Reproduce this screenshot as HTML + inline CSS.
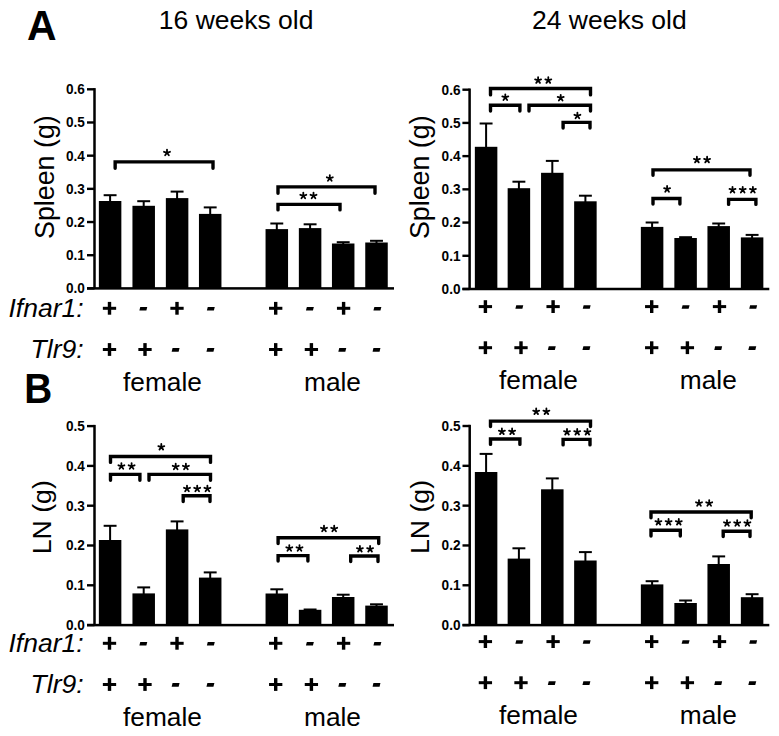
<!DOCTYPE html>
<html><head><meta charset="utf-8"><style>
html,body{margin:0;padding:0;background:#fff;}
svg{display:block;}
text{font-family:"Liberation Sans", sans-serif;fill:#000;}
</style></head><body>
<svg width="779" height="736" viewBox="0 0 779 736">
<rect width="779" height="736" fill="#fff"/>
<g fill="#000">
<rect x="93.25" y="88.1" width="2.5" height="200.3"/>
<rect x="87" y="287.2" width="7.5" height="2.4"/>
<text x="0" y="0" font-size="13.9" font-weight="bold" font-style="normal" text-anchor="end" transform="translate(84.9 293.28) scale(0.98 1.08)">0.0</text>
<rect x="87" y="254.02" width="7.5" height="2.4"/>
<text x="0" y="0" font-size="13.9" font-weight="bold" font-style="normal" text-anchor="end" transform="translate(84.9 260.09) scale(0.98 1.08)">0.1</text>
<rect x="87" y="220.83" width="7.5" height="2.4"/>
<text x="0" y="0" font-size="13.9" font-weight="bold" font-style="normal" text-anchor="end" transform="translate(84.9 226.91) scale(0.98 1.08)">0.2</text>
<rect x="87" y="187.65" width="7.5" height="2.4"/>
<text x="0" y="0" font-size="13.9" font-weight="bold" font-style="normal" text-anchor="end" transform="translate(84.9 193.73) scale(0.98 1.08)">0.3</text>
<rect x="87" y="154.47" width="7.5" height="2.4"/>
<text x="0" y="0" font-size="13.9" font-weight="bold" font-style="normal" text-anchor="end" transform="translate(84.9 160.54) scale(0.98 1.08)">0.4</text>
<rect x="87" y="121.28" width="7.5" height="2.4"/>
<text x="0" y="0" font-size="13.9" font-weight="bold" font-style="normal" text-anchor="end" transform="translate(84.9 127.36) scale(0.98 1.08)">0.5</text>
<rect x="87" y="88.1" width="7.5" height="2.4"/>
<text x="0" y="0" font-size="13.9" font-weight="bold" font-style="normal" text-anchor="end" transform="translate(84.9 94.18) scale(0.98 1.08)">0.6</text>
<rect x="87" y="287.15" width="307" height="2.5"/>
<rect x="98.85" y="201" width="22.5" height="87.4"/>
<rect x="109.1" y="195" width="2" height="7"/>
<rect x="103.65" y="194.2" width="12.9" height="2"/>
<rect x="132.45" y="205.8" width="22.5" height="82.6"/>
<rect x="142.7" y="201" width="2" height="5.8"/>
<rect x="137.25" y="200.2" width="12.9" height="2"/>
<rect x="165.85" y="198.1" width="22.5" height="90.3"/>
<rect x="176.1" y="191.4" width="2" height="7.7"/>
<rect x="170.65" y="190.6" width="12.9" height="2"/>
<rect x="198.95" y="213.9" width="22.5" height="74.5"/>
<rect x="209.2" y="207.2" width="2" height="7.7"/>
<rect x="203.75" y="206.4" width="12.9" height="2"/>
<rect x="265.55" y="229.1" width="22.5" height="59.3"/>
<rect x="275.8" y="223.3" width="2" height="6.8"/>
<rect x="270.35" y="222.5" width="12.9" height="2"/>
<rect x="298.85" y="228.1" width="22.5" height="60.3"/>
<rect x="309.1" y="224.1" width="2" height="5"/>
<rect x="303.65" y="223.3" width="12.9" height="2"/>
<rect x="331.95" y="243.5" width="22.5" height="44.9"/>
<rect x="342.2" y="242" width="2" height="2.5"/>
<rect x="336.75" y="241.2" width="12.9" height="2"/>
<rect x="365.25" y="242.5" width="22.5" height="45.9"/>
<rect x="375.5" y="240.6" width="2" height="2.9"/>
<rect x="370.05" y="239.8" width="12.9" height="2"/>
<path d="M115.15 168.2V161.85H213V168.2" fill="none" stroke="#000" stroke-width="3.4" stroke-linecap="round" stroke-linejoin="miter"/>
<path d="M278 193.2V186.85H375V193.2" fill="none" stroke="#000" stroke-width="3.4" stroke-linecap="round" stroke-linejoin="miter"/>
<path d="M278 209.9V204.35H340V209.9" fill="none" stroke="#000" stroke-width="3.4" stroke-linecap="round" stroke-linejoin="miter"/>
<path d="M167 152.75L167 149.6M167 152.75L170 151.78M167 152.75L168.85 155.3M167 152.75L165.15 155.3M167 152.75L164 151.78" fill="none" stroke="#000" stroke-width="1.8" stroke-linecap="round"/>
<path d="M329.8 178.25L329.8 175.1M329.8 178.25L332.8 177.28M329.8 178.25L331.65 180.8M329.8 178.25L327.95 180.8M329.8 178.25L326.8 177.28" fill="none" stroke="#000" stroke-width="1.8" stroke-linecap="round"/>
<path d="M303.3 195.75L303.3 192.6M303.3 195.75L306.3 194.78M303.3 195.75L305.15 198.3M303.3 195.75L301.45 198.3M303.3 195.75L300.3 194.78M313.5 195.75L313.5 192.6M313.5 195.75L316.5 194.78M313.5 195.75L315.35 198.3M313.5 195.75L311.65 198.3M313.5 195.75L310.5 194.78" fill="none" stroke="#000" stroke-width="1.8" stroke-linecap="round"/>
<rect x="468.35" y="88.5" width="2.5" height="200.5"/>
<rect x="462.4" y="287.8" width="7.2" height="2.4"/>
<text x="0" y="0" font-size="13.9" font-weight="bold" font-style="normal" text-anchor="end" transform="translate(460.5 293.88) scale(0.98 1.08)">0.0</text>
<rect x="462.4" y="254.58" width="7.2" height="2.4"/>
<text x="0" y="0" font-size="13.9" font-weight="bold" font-style="normal" text-anchor="end" transform="translate(460.5 260.66) scale(0.98 1.08)">0.1</text>
<rect x="462.4" y="221.37" width="7.2" height="2.4"/>
<text x="0" y="0" font-size="13.9" font-weight="bold" font-style="normal" text-anchor="end" transform="translate(460.5 227.44) scale(0.98 1.08)">0.2</text>
<rect x="462.4" y="188.15" width="7.2" height="2.4"/>
<text x="0" y="0" font-size="13.9" font-weight="bold" font-style="normal" text-anchor="end" transform="translate(460.5 194.23) scale(0.98 1.08)">0.3</text>
<rect x="462.4" y="154.93" width="7.2" height="2.4"/>
<text x="0" y="0" font-size="13.9" font-weight="bold" font-style="normal" text-anchor="end" transform="translate(460.5 161.01) scale(0.98 1.08)">0.4</text>
<rect x="462.4" y="121.72" width="7.2" height="2.4"/>
<text x="0" y="0" font-size="13.9" font-weight="bold" font-style="normal" text-anchor="end" transform="translate(460.5 127.79) scale(0.98 1.08)">0.5</text>
<rect x="462.4" y="88.5" width="7.2" height="2.4"/>
<text x="0" y="0" font-size="13.9" font-weight="bold" font-style="normal" text-anchor="end" transform="translate(460.5 94.58) scale(0.98 1.08)">0.6</text>
<rect x="462.4" y="287.75" width="306.9" height="2.5"/>
<rect x="474.85" y="146.8" width="22.5" height="142.2"/>
<rect x="485.1" y="123.3" width="2" height="24.5"/>
<rect x="479.65" y="122.5" width="12.9" height="2"/>
<rect x="507.65" y="188.2" width="22.5" height="100.8"/>
<rect x="517.9" y="181.5" width="2" height="7.7"/>
<rect x="512.45" y="180.7" width="12.9" height="2"/>
<rect x="541.05" y="172.8" width="22.5" height="116.2"/>
<rect x="551.3" y="160.7" width="2" height="13.1"/>
<rect x="545.85" y="159.9" width="12.9" height="2"/>
<rect x="574.15" y="201.3" width="22.5" height="87.7"/>
<rect x="584.4" y="195.5" width="2" height="6.8"/>
<rect x="578.95" y="194.7" width="12.9" height="2"/>
<rect x="640.85" y="226.9" width="22.5" height="62.1"/>
<rect x="651.1" y="222.3" width="2" height="5.6"/>
<rect x="645.65" y="221.5" width="12.9" height="2"/>
<rect x="674.35" y="238" width="22.5" height="51"/>
<rect x="684.6" y="237" width="2" height="2"/>
<rect x="679.15" y="236.2" width="12.9" height="2"/>
<rect x="707.45" y="226.1" width="22.5" height="62.9"/>
<rect x="717.7" y="223.3" width="2" height="3.8"/>
<rect x="712.25" y="222.5" width="12.9" height="2"/>
<rect x="740.85" y="237.4" width="22.5" height="51.6"/>
<rect x="751.1" y="234.7" width="2" height="3.7"/>
<rect x="745.65" y="233.9" width="12.9" height="2"/>
<path d="M490.5 94.9V88.5H590.5V94.9" fill="none" stroke="#000" stroke-width="3.4" stroke-linecap="round" stroke-linejoin="miter"/>
<path d="M490.5 111.1V105.2H519.9V111.1" fill="none" stroke="#000" stroke-width="3.4" stroke-linecap="round" stroke-linejoin="miter"/>
<path d="M529 111.1V105.2H590.5V111.1" fill="none" stroke="#000" stroke-width="3.4" stroke-linecap="round" stroke-linejoin="miter"/>
<path d="M563.1 128.1V122.4H590V128.1" fill="none" stroke="#000" stroke-width="3.4" stroke-linecap="round" stroke-linejoin="miter"/>
<path d="M653 175.2V169.85H750V175.2" fill="none" stroke="#000" stroke-width="3.4" stroke-linecap="round" stroke-linejoin="miter"/>
<path d="M653 204.1V198.55H679.9V204.1" fill="none" stroke="#000" stroke-width="3.4" stroke-linecap="round" stroke-linejoin="miter"/>
<path d="M728.6 204.4V199.4H755.9V204.4" fill="none" stroke="#000" stroke-width="3.4" stroke-linecap="round" stroke-linejoin="miter"/>
<path d="M538.1 80.35L538.1 77.2M538.1 80.35L541.1 79.38M538.1 80.35L539.95 82.9M538.1 80.35L536.25 82.9M538.1 80.35L535.1 79.38M548.3 80.35L548.3 77.2M548.3 80.35L551.3 79.38M548.3 80.35L550.15 82.9M548.3 80.35L546.45 82.9M548.3 80.35L545.3 79.38" fill="none" stroke="#000" stroke-width="1.8" stroke-linecap="round"/>
<path d="M505.3 97.45L505.3 94.3M505.3 97.45L508.3 96.48M505.3 97.45L507.15 100M505.3 97.45L503.45 100M505.3 97.45L502.3 96.48" fill="none" stroke="#000" stroke-width="1.8" stroke-linecap="round"/>
<path d="M560.7 97.95L560.7 94.8M560.7 97.95L563.7 96.98M560.7 97.95L562.55 100.5M560.7 97.95L558.85 100.5M560.7 97.95L557.7 96.98" fill="none" stroke="#000" stroke-width="1.8" stroke-linecap="round"/>
<path d="M577.4 115.75L577.4 112.6M577.4 115.75L580.4 114.78M577.4 115.75L579.25 118.3M577.4 115.75L575.55 118.3M577.4 115.75L574.4 114.78" fill="none" stroke="#000" stroke-width="1.8" stroke-linecap="round"/>
<path d="M696.9 159.85L696.9 156.7M696.9 159.85L699.9 158.88M696.9 159.85L698.75 162.4M696.9 159.85L695.05 162.4M696.9 159.85L693.9 158.88M707.1 159.85L707.1 156.7M707.1 159.85L710.1 158.88M707.1 159.85L708.95 162.4M707.1 159.85L705.25 162.4M707.1 159.85L704.1 158.88" fill="none" stroke="#000" stroke-width="1.8" stroke-linecap="round"/>
<path d="M667.1 189.15L667.1 186M667.1 189.15L670.1 188.18M667.1 189.15L668.95 191.7M667.1 189.15L665.25 191.7M667.1 189.15L664.1 188.18" fill="none" stroke="#000" stroke-width="1.8" stroke-linecap="round"/>
<path d="M732.5 189.95L732.5 186.8M732.5 189.95L735.5 188.98M732.5 189.95L734.35 192.5M732.5 189.95L730.65 192.5M732.5 189.95L729.5 188.98M742.7 189.95L742.7 186.8M742.7 189.95L745.7 188.98M742.7 189.95L744.55 192.5M742.7 189.95L740.85 192.5M742.7 189.95L739.7 188.98M752.9 189.95L752.9 186.8M752.9 189.95L755.9 188.98M752.9 189.95L754.75 192.5M752.9 189.95L751.05 192.5M752.9 189.95L749.9 188.98" fill="none" stroke="#000" stroke-width="1.8" stroke-linecap="round"/>
<rect x="93.25" y="424.9" width="2.5" height="200.2"/>
<rect x="87" y="623.9" width="7.5" height="2.4"/>
<text x="0" y="0" font-size="13.9" font-weight="bold" font-style="normal" text-anchor="end" transform="translate(84.9 629.98) scale(0.98 1.08)">0.0</text>
<rect x="87" y="584.1" width="7.5" height="2.4"/>
<text x="0" y="0" font-size="13.9" font-weight="bold" font-style="normal" text-anchor="end" transform="translate(84.9 590.18) scale(0.98 1.08)">0.1</text>
<rect x="87" y="544.3" width="7.5" height="2.4"/>
<text x="0" y="0" font-size="13.9" font-weight="bold" font-style="normal" text-anchor="end" transform="translate(84.9 550.38) scale(0.98 1.08)">0.2</text>
<rect x="87" y="504.5" width="7.5" height="2.4"/>
<text x="0" y="0" font-size="13.9" font-weight="bold" font-style="normal" text-anchor="end" transform="translate(84.9 510.58) scale(0.98 1.08)">0.3</text>
<rect x="87" y="464.7" width="7.5" height="2.4"/>
<text x="0" y="0" font-size="13.9" font-weight="bold" font-style="normal" text-anchor="end" transform="translate(84.9 470.78) scale(0.98 1.08)">0.4</text>
<rect x="87" y="424.9" width="7.5" height="2.4"/>
<text x="0" y="0" font-size="13.9" font-weight="bold" font-style="normal" text-anchor="end" transform="translate(84.9 430.98) scale(0.98 1.08)">0.5</text>
<rect x="87" y="623.85" width="307" height="2.5"/>
<rect x="98.85" y="540" width="22.5" height="85.1"/>
<rect x="109.1" y="525.6" width="2" height="15.4"/>
<rect x="103.65" y="524.8" width="12.9" height="2"/>
<rect x="132.45" y="593.4" width="22.5" height="31.7"/>
<rect x="142.7" y="587.2" width="2" height="7.2"/>
<rect x="137.25" y="586.4" width="12.9" height="2"/>
<rect x="165.85" y="529.4" width="22.5" height="95.7"/>
<rect x="176.1" y="521.2" width="2" height="9.2"/>
<rect x="170.65" y="520.4" width="12.9" height="2"/>
<rect x="198.95" y="577.6" width="22.5" height="47.5"/>
<rect x="209.2" y="572.2" width="2" height="6.4"/>
<rect x="203.75" y="571.4" width="12.9" height="2"/>
<rect x="265.55" y="593.5" width="22.5" height="31.6"/>
<rect x="275.8" y="589.1" width="2" height="5.4"/>
<rect x="270.35" y="588.3" width="12.9" height="2"/>
<rect x="298.85" y="609.8" width="22.5" height="15.3"/>
<rect x="309.1" y="609.3" width="2" height="1.5"/>
<rect x="303.65" y="608.5" width="12.9" height="2"/>
<rect x="331.95" y="597" width="22.5" height="28.1"/>
<rect x="342.2" y="594.5" width="2" height="3.5"/>
<rect x="336.75" y="593.7" width="12.9" height="2"/>
<rect x="365.25" y="605.6" width="22.5" height="19.5"/>
<rect x="375.5" y="604.1" width="2" height="2.5"/>
<rect x="370.05" y="603.3" width="12.9" height="2"/>
<path d="M110.5 462.4V456.5H210.5V462.4" fill="none" stroke="#000" stroke-width="3.4" stroke-linecap="round" stroke-linejoin="miter"/>
<path d="M110.5 480.2V474.4H139.9V480.2" fill="none" stroke="#000" stroke-width="3.4" stroke-linecap="round" stroke-linejoin="miter"/>
<path d="M149 480.2V474.4H210.5V480.2" fill="none" stroke="#000" stroke-width="3.4" stroke-linecap="round" stroke-linejoin="miter"/>
<path d="M183.2 501.6V495.8H210V501.6" fill="none" stroke="#000" stroke-width="3.4" stroke-linecap="round" stroke-linejoin="miter"/>
<path d="M278.1 543.5V537.7H378.7V543.5" fill="none" stroke="#000" stroke-width="3.4" stroke-linecap="round" stroke-linejoin="miter"/>
<path d="M278.1 561.1V555.65H307.9V561.1" fill="none" stroke="#000" stroke-width="3.4" stroke-linecap="round" stroke-linejoin="miter"/>
<path d="M350.7 561.5V556H378V561.5" fill="none" stroke="#000" stroke-width="3.4" stroke-linecap="round" stroke-linejoin="miter"/>
<path d="M161.3 447.05L161.3 443.9M161.3 447.05L164.3 446.08M161.3 447.05L163.15 449.6M161.3 447.05L159.45 449.6M161.3 447.05L158.3 446.08" fill="none" stroke="#000" stroke-width="1.8" stroke-linecap="round"/>
<path d="M121.4 466.25L121.4 463.1M121.4 466.25L124.4 465.28M121.4 466.25L123.25 468.8M121.4 466.25L119.55 468.8M121.4 466.25L118.4 465.28M131.6 466.25L131.6 463.1M131.6 466.25L134.6 465.28M131.6 466.25L133.45 468.8M131.6 466.25L129.75 468.8M131.6 466.25L128.6 465.28" fill="none" stroke="#000" stroke-width="1.8" stroke-linecap="round"/>
<path d="M175.7 466.75L175.7 463.6M175.7 466.75L178.7 465.78M175.7 466.75L177.55 469.3M175.7 466.75L173.85 469.3M175.7 466.75L172.7 465.78M185.9 466.75L185.9 463.6M185.9 466.75L188.9 465.78M185.9 466.75L187.75 469.3M185.9 466.75L184.05 469.3M185.9 466.75L182.9 465.78" fill="none" stroke="#000" stroke-width="1.8" stroke-linecap="round"/>
<path d="M187 488.75L187 485.6M187 488.75L190 487.78M187 488.75L188.85 491.3M187 488.75L185.15 491.3M187 488.75L184 487.78M197.2 488.75L197.2 485.6M197.2 488.75L200.2 487.78M197.2 488.75L199.05 491.3M197.2 488.75L195.35 491.3M197.2 488.75L194.2 487.78M207.4 488.75L207.4 485.6M207.4 488.75L210.4 487.78M207.4 488.75L209.25 491.3M207.4 488.75L205.55 491.3M207.4 488.75L204.4 487.78" fill="none" stroke="#000" stroke-width="1.8" stroke-linecap="round"/>
<path d="M324 528.75L324 525.6M324 528.75L327 527.78M324 528.75L325.85 531.3M324 528.75L322.15 531.3M324 528.75L321 527.78M334.2 528.75L334.2 525.6M334.2 528.75L337.2 527.78M334.2 528.75L336.05 531.3M334.2 528.75L332.35 531.3M334.2 528.75L331.2 527.78" fill="none" stroke="#000" stroke-width="1.8" stroke-linecap="round"/>
<path d="M289.3 548.25L289.3 545.1M289.3 548.25L292.3 547.28M289.3 548.25L291.15 550.8M289.3 548.25L287.45 550.8M289.3 548.25L286.3 547.28M299.5 548.25L299.5 545.1M299.5 548.25L302.5 547.28M299.5 548.25L301.35 550.8M299.5 548.25L297.65 550.8M299.5 548.25L296.5 547.28" fill="none" stroke="#000" stroke-width="1.8" stroke-linecap="round"/>
<path d="M359.9 549.05L359.9 545.9M359.9 549.05L362.9 548.08M359.9 549.05L361.75 551.6M359.9 549.05L358.05 551.6M359.9 549.05L356.9 548.08M370.1 549.05L370.1 545.9M370.1 549.05L373.1 548.08M370.1 549.05L371.95 551.6M370.1 549.05L368.25 551.6M370.1 549.05L367.1 548.08" fill="none" stroke="#000" stroke-width="1.8" stroke-linecap="round"/>
<rect x="468.45" y="424.8" width="2.5" height="200.3"/>
<rect x="462.5" y="623.9" width="7.2" height="2.4"/>
<text x="0" y="0" font-size="13.9" font-weight="bold" font-style="normal" text-anchor="end" transform="translate(460.5 629.98) scale(0.98 1.08)">0.0</text>
<rect x="462.5" y="584.08" width="7.2" height="2.4"/>
<text x="0" y="0" font-size="13.9" font-weight="bold" font-style="normal" text-anchor="end" transform="translate(460.5 590.16) scale(0.98 1.08)">0.1</text>
<rect x="462.5" y="544.26" width="7.2" height="2.4"/>
<text x="0" y="0" font-size="13.9" font-weight="bold" font-style="normal" text-anchor="end" transform="translate(460.5 550.34) scale(0.98 1.08)">0.2</text>
<rect x="462.5" y="504.44" width="7.2" height="2.4"/>
<text x="0" y="0" font-size="13.9" font-weight="bold" font-style="normal" text-anchor="end" transform="translate(460.5 510.52) scale(0.98 1.08)">0.3</text>
<rect x="462.5" y="464.62" width="7.2" height="2.4"/>
<text x="0" y="0" font-size="13.9" font-weight="bold" font-style="normal" text-anchor="end" transform="translate(460.5 470.7) scale(0.98 1.08)">0.4</text>
<rect x="462.5" y="424.8" width="7.2" height="2.4"/>
<text x="0" y="0" font-size="13.9" font-weight="bold" font-style="normal" text-anchor="end" transform="translate(460.5 430.88) scale(0.98 1.08)">0.5</text>
<rect x="462.5" y="623.85" width="306.8" height="2.5"/>
<rect x="474.85" y="472" width="22.5" height="153.1"/>
<rect x="485.1" y="453.7" width="2" height="19.3"/>
<rect x="479.65" y="452.9" width="12.9" height="2"/>
<rect x="507.65" y="558.6" width="22.5" height="66.5"/>
<rect x="517.9" y="548.1" width="2" height="11.5"/>
<rect x="512.45" y="547.3" width="12.9" height="2"/>
<rect x="541.05" y="489.3" width="22.5" height="135.8"/>
<rect x="551.3" y="478.2" width="2" height="12.1"/>
<rect x="545.85" y="477.4" width="12.9" height="2"/>
<rect x="574.15" y="560.5" width="22.5" height="64.6"/>
<rect x="584.4" y="551.9" width="2" height="9.6"/>
<rect x="578.95" y="551.1" width="12.9" height="2"/>
<rect x="640.85" y="584.4" width="22.5" height="40.7"/>
<rect x="651.1" y="581" width="2" height="4.4"/>
<rect x="645.65" y="580.2" width="12.9" height="2"/>
<rect x="674.35" y="603" width="22.5" height="22.1"/>
<rect x="684.6" y="600.3" width="2" height="3.7"/>
<rect x="679.15" y="599.5" width="12.9" height="2"/>
<rect x="707.45" y="564" width="22.5" height="61.1"/>
<rect x="717.7" y="556.2" width="2" height="8.8"/>
<rect x="712.25" y="555.4" width="12.9" height="2"/>
<rect x="740.85" y="597.2" width="22.5" height="27.9"/>
<rect x="751.1" y="594" width="2" height="4.2"/>
<rect x="745.65" y="593.2" width="12.9" height="2"/>
<path d="M490.5 426.5V421.1H590.5V426.5" fill="none" stroke="#000" stroke-width="3.4" stroke-linecap="round" stroke-linejoin="miter"/>
<path d="M490.5 444.4V439H519.9V444.4" fill="none" stroke="#000" stroke-width="3.4" stroke-linecap="round" stroke-linejoin="miter"/>
<path d="M563.1 444.9V439.4H590V444.9" fill="none" stroke="#000" stroke-width="3.4" stroke-linecap="round" stroke-linejoin="miter"/>
<path d="M651 517.7V512H751.2V517.7" fill="none" stroke="#000" stroke-width="3.4" stroke-linecap="round" stroke-linejoin="miter"/>
<path d="M651 536.1V530.3H680.3V536.1" fill="none" stroke="#000" stroke-width="3.4" stroke-linecap="round" stroke-linejoin="miter"/>
<path d="M723.2 536.6V531.2H750V536.6" fill="none" stroke="#000" stroke-width="3.4" stroke-linecap="round" stroke-linejoin="miter"/>
<path d="M536.2 411.55L536.2 408.4M536.2 411.55L539.2 410.58M536.2 411.55L538.05 414.1M536.2 411.55L534.35 414.1M536.2 411.55L533.2 410.58M546.4 411.55L546.4 408.4M546.4 411.55L549.4 410.58M546.4 411.55L548.25 414.1M546.4 411.55L544.55 414.1M546.4 411.55L543.4 410.58" fill="none" stroke="#000" stroke-width="1.8" stroke-linecap="round"/>
<path d="M501.9 431.55L501.9 428.4M501.9 431.55L504.9 430.58M501.9 431.55L503.75 434.1M501.9 431.55L500.05 434.1M501.9 431.55L498.9 430.58M512.1 431.55L512.1 428.4M512.1 431.55L515.1 430.58M512.1 431.55L513.95 434.1M512.1 431.55L510.25 434.1M512.1 431.55L509.1 430.58" fill="none" stroke="#000" stroke-width="1.8" stroke-linecap="round"/>
<path d="M567 432.05L567 428.9M567 432.05L570 431.08M567 432.05L568.85 434.6M567 432.05L565.15 434.6M567 432.05L564 431.08M577.2 432.05L577.2 428.9M577.2 432.05L580.2 431.08M577.2 432.05L579.05 434.6M577.2 432.05L575.35 434.6M577.2 432.05L574.2 431.08M587.4 432.05L587.4 428.9M587.4 432.05L590.4 431.08M587.4 432.05L589.25 434.6M587.4 432.05L585.55 434.6M587.4 432.05L584.4 431.08" fill="none" stroke="#000" stroke-width="1.8" stroke-linecap="round"/>
<path d="M699 503.25L699 500.1M699 503.25L702 502.28M699 503.25L700.85 505.8M699 503.25L697.15 505.8M699 503.25L696 502.28M709.2 503.25L709.2 500.1M709.2 503.25L712.2 502.28M709.2 503.25L711.05 505.8M709.2 503.25L707.35 505.8M709.2 503.25L706.2 502.28" fill="none" stroke="#000" stroke-width="1.8" stroke-linecap="round"/>
<path d="M658.4 522.05L658.4 518.9M658.4 522.05L661.4 521.08M658.4 522.05L660.25 524.6M658.4 522.05L656.55 524.6M658.4 522.05L655.4 521.08M668.6 522.05L668.6 518.9M668.6 522.05L671.6 521.08M668.6 522.05L670.45 524.6M668.6 522.05L666.75 524.6M668.6 522.05L665.6 521.08M678.8 522.05L678.8 518.9M678.8 522.05L681.8 521.08M678.8 522.05L680.65 524.6M678.8 522.05L676.95 524.6M678.8 522.05L675.8 521.08" fill="none" stroke="#000" stroke-width="1.8" stroke-linecap="round"/>
<path d="M727 523.25L727 520.1M727 523.25L730 522.28M727 523.25L728.85 525.8M727 523.25L725.15 525.8M727 523.25L724 522.28M737.2 523.25L737.2 520.1M737.2 523.25L740.2 522.28M737.2 523.25L739.05 525.8M737.2 523.25L735.35 525.8M737.2 523.25L734.2 522.28M747.4 523.25L747.4 520.1M747.4 523.25L750.4 522.28M747.4 523.25L749.25 525.8M747.4 523.25L745.55 525.8M747.4 523.25L744.4 522.28" fill="none" stroke="#000" stroke-width="1.8" stroke-linecap="round"/>
<rect x="102.85" y="306.8" width="13.3" height="3"/>
<rect x="107.8" y="301.9" width="3.4" height="12.8"/>
<rect x="102.85" y="348" width="13.3" height="3"/>
<rect x="107.8" y="343.1" width="3.4" height="12.8"/>
<path d="M140.25 306.9H147.25L146.35 310.5H139.35Z"/>
<rect x="138.35" y="348" width="13.3" height="3"/>
<rect x="143.3" y="343.1" width="3.4" height="12.8"/>
<rect x="170.35" y="306.8" width="13.3" height="3"/>
<rect x="175.3" y="301.9" width="3.4" height="12.8"/>
<path d="M172.55 348.1H179.55L178.65 351.7H171.65Z"/>
<path d="M207.75 306.9H214.75L213.85 310.5H206.85Z"/>
<path d="M207.35 348.1H214.35L213.45 351.7H206.45Z"/>
<rect x="269.05" y="306.8" width="13.3" height="3"/>
<rect x="274" y="301.9" width="3.4" height="12.8"/>
<rect x="269.05" y="348" width="13.3" height="3"/>
<rect x="274" y="343.1" width="3.4" height="12.8"/>
<path d="M306.85 306.9H313.85L312.95 310.5H305.95Z"/>
<rect x="304.75" y="348" width="13.3" height="3"/>
<rect x="309.7" y="343.1" width="3.4" height="12.8"/>
<rect x="336.95" y="306.8" width="13.3" height="3"/>
<rect x="341.9" y="301.9" width="3.4" height="12.8"/>
<path d="M339.25 348.1H346.25L345.35 351.7H338.35Z"/>
<path d="M374.35 306.9H381.35L380.45 310.5H373.45Z"/>
<path d="M373.45 348.1H380.45L379.55 351.7H372.55Z"/>
<rect x="478.75" y="305.1" width="13.3" height="3"/>
<rect x="483.7" y="300.2" width="3.4" height="12.8"/>
<rect x="478.75" y="346.2" width="13.3" height="3"/>
<rect x="483.7" y="341.3" width="3.4" height="12.8"/>
<path d="M516.25 305.2H523.25L522.35 308.8H515.35Z"/>
<rect x="514.35" y="346.2" width="13.3" height="3"/>
<rect x="519.3" y="341.3" width="3.4" height="12.8"/>
<rect x="546.45" y="305.1" width="13.3" height="3"/>
<rect x="551.4" y="300.2" width="3.4" height="12.8"/>
<path d="M548.75 346.3H555.75L554.85 349.9H547.85Z"/>
<path d="M583.65 305.2H590.65L589.75 308.8H582.75Z"/>
<path d="M583.35 346.3H590.35L589.45 349.9H582.45Z"/>
<rect x="645.05" y="305.1" width="13.3" height="3"/>
<rect x="650" y="300.2" width="3.4" height="12.8"/>
<rect x="645.05" y="346.2" width="13.3" height="3"/>
<rect x="650" y="341.3" width="3.4" height="12.8"/>
<path d="M682.55 305.2H689.55L688.65 308.8H681.65Z"/>
<rect x="680.75" y="346.2" width="13.3" height="3"/>
<rect x="685.7" y="341.3" width="3.4" height="12.8"/>
<rect x="712.85" y="305.1" width="13.3" height="3"/>
<rect x="717.8" y="300.2" width="3.4" height="12.8"/>
<path d="M715.15 346.3H722.15L721.25 349.9H714.25Z"/>
<path d="M750.15 305.2H757.15L756.25 308.8H749.25Z"/>
<path d="M749.25 346.3H756.25L755.35 349.9H748.35Z"/>
<rect x="102.85" y="641.8" width="13.3" height="3"/>
<rect x="107.8" y="636.9" width="3.4" height="12.8"/>
<rect x="102.85" y="683" width="13.3" height="3"/>
<rect x="107.8" y="678.1" width="3.4" height="12.8"/>
<path d="M140.25 641.9H147.25L146.35 645.5H139.35Z"/>
<rect x="138.35" y="683" width="13.3" height="3"/>
<rect x="143.3" y="678.1" width="3.4" height="12.8"/>
<rect x="170.35" y="641.8" width="13.3" height="3"/>
<rect x="175.3" y="636.9" width="3.4" height="12.8"/>
<path d="M172.55 683.1H179.55L178.65 686.7H171.65Z"/>
<path d="M207.75 641.9H214.75L213.85 645.5H206.85Z"/>
<path d="M207.35 683.1H214.35L213.45 686.7H206.45Z"/>
<rect x="269.05" y="641.8" width="13.3" height="3"/>
<rect x="274" y="636.9" width="3.4" height="12.8"/>
<rect x="269.05" y="683" width="13.3" height="3"/>
<rect x="274" y="678.1" width="3.4" height="12.8"/>
<path d="M306.85 641.9H313.85L312.95 645.5H305.95Z"/>
<rect x="304.75" y="683" width="13.3" height="3"/>
<rect x="309.7" y="678.1" width="3.4" height="12.8"/>
<rect x="336.95" y="641.8" width="13.3" height="3"/>
<rect x="341.9" y="636.9" width="3.4" height="12.8"/>
<path d="M339.25 683.1H346.25L345.35 686.7H338.35Z"/>
<path d="M374.35 641.9H381.35L380.45 645.5H373.45Z"/>
<path d="M373.45 683.1H380.45L379.55 686.7H372.55Z"/>
<rect x="478.75" y="640.1" width="13.3" height="3"/>
<rect x="483.7" y="635.2" width="3.4" height="12.8"/>
<rect x="478.75" y="681.2" width="13.3" height="3"/>
<rect x="483.7" y="676.3" width="3.4" height="12.8"/>
<path d="M516.25 640.2H523.25L522.35 643.8H515.35Z"/>
<rect x="514.35" y="681.2" width="13.3" height="3"/>
<rect x="519.3" y="676.3" width="3.4" height="12.8"/>
<rect x="546.45" y="640.1" width="13.3" height="3"/>
<rect x="551.4" y="635.2" width="3.4" height="12.8"/>
<path d="M548.75 681.3H555.75L554.85 684.9H547.85Z"/>
<path d="M583.65 640.2H590.65L589.75 643.8H582.75Z"/>
<path d="M583.35 681.3H590.35L589.45 684.9H582.45Z"/>
<rect x="645.05" y="640.1" width="13.3" height="3"/>
<rect x="650" y="635.2" width="3.4" height="12.8"/>
<rect x="645.05" y="681.2" width="13.3" height="3"/>
<rect x="650" y="676.3" width="3.4" height="12.8"/>
<path d="M682.55 640.2H689.55L688.65 643.8H681.65Z"/>
<rect x="680.75" y="681.2" width="13.3" height="3"/>
<rect x="685.7" y="676.3" width="3.4" height="12.8"/>
<rect x="712.85" y="640.1" width="13.3" height="3"/>
<rect x="717.8" y="635.2" width="3.4" height="12.8"/>
<path d="M715.15 681.3H722.15L721.25 684.9H714.25Z"/>
<path d="M750.15 640.2H757.15L756.25 643.8H749.25Z"/>
<path d="M749.25 681.3H756.25L755.35 684.9H748.35Z"/>
<text x="83.6" y="316.6" font-size="26.5" font-weight="normal" font-style="italic" text-anchor="end" >Ifnar1:</text>
<text x="83.6" y="358" font-size="26.5" font-weight="normal" font-style="italic" text-anchor="end" >Tlr9:</text>
<text x="83.6" y="651.6" font-size="26.5" font-weight="normal" font-style="italic" text-anchor="end" >Ifnar1:</text>
<text x="83.6" y="693" font-size="26.5" font-weight="normal" font-style="italic" text-anchor="end" >Tlr9:</text>
<text x="123" y="391" font-size="26.3" font-weight="normal" font-style="normal" text-anchor="start" >female</text>
<text x="304" y="391.2" font-size="26.3" font-weight="normal" font-style="normal" text-anchor="start" >male</text>
<text x="499" y="389.3" font-size="26.3" font-weight="normal" font-style="normal" text-anchor="start" >female</text>
<text x="679.8" y="389.3" font-size="26.3" font-weight="normal" font-style="normal" text-anchor="start" >male</text>
<text x="123" y="726" font-size="26.3" font-weight="normal" font-style="normal" text-anchor="start" >female</text>
<text x="304" y="726.2" font-size="26.3" font-weight="normal" font-style="normal" text-anchor="start" >male</text>
<text x="499" y="724.3" font-size="26.3" font-weight="normal" font-style="normal" text-anchor="start" >female</text>
<text x="679.8" y="724.3" font-size="26.3" font-weight="normal" font-style="normal" text-anchor="start" >male</text>
<text x="54.1" y="177.1" font-size="26.8" font-weight="normal" font-style="normal" text-anchor="middle" transform="rotate(-90 54.1 177.1)">Spleen (g)</text>
<text x="429.4" y="177.2" font-size="26.8" font-weight="normal" font-style="normal" text-anchor="middle" transform="rotate(-90 429.4 177.2)">Spleen (g)</text>
<text x="50.5" y="517.25" font-size="26.7" font-weight="normal" font-style="normal" text-anchor="middle" transform="rotate(-90 50.5 517.25)">LN (g)</text>
<text x="429.4" y="517" font-size="26.7" font-weight="normal" font-style="normal" text-anchor="middle" transform="rotate(-90 429.4 517)">LN (g)</text>
<text x="0" y="0" font-size="41" font-weight="bold" font-style="normal" text-anchor="start" transform="translate(27.0 40.4) scale(1.0 1.015)">A</text>
<text x="0" y="0" font-size="41" font-weight="bold" font-style="normal" text-anchor="start" transform="translate(24.3 403.25) scale(0.945 1.02)">B</text>
<text x="158.8" y="28.9" font-size="26.5" font-weight="normal" font-style="normal" text-anchor="start" >16 weeks old</text>
<text x="532" y="28.9" font-size="26.5" font-weight="normal" font-style="normal" text-anchor="start" >24 weeks old</text>
</g>
</svg>
</body></html>
